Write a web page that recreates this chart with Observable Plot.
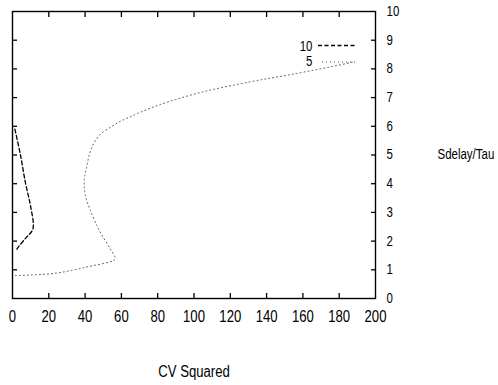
<!DOCTYPE html>
<html>
<head>
<meta charset="utf-8">
<script src="https://cdn.jsdelivr.net/npm/d3@7"></script>
<script src="https://cdn.jsdelivr.net/npm/@observablehq/plot@0.6"></script>
<style>
  body { margin: 0; background: #fff; }
  #chart svg { display: block; }
</style>
</head>
<body>
<div id="chart"></div>
<script>
// Series "10" (dashed)
const cv10 = [1.3, 4.4, 7.1, 9.9, 11.5, 10.8, 7.1, 2.6, 2.0];
const sd10 = [5.9, 5.0, 4.04, 3.24, 2.54, 2.36, 2.09, 1.74, 1.67];
// Series "5" (dotted)
const cv5 = [1.6, 23.6, 41.8, 55.5, 56.6, 53.8, 49.3, 46.5, 42.9, 40.7, 39.6, 39.7, 41, 42.5, 44.7, 48.4, 54.8, 59.3, 64.8, 69, 81, 103, 131, 153, 176, 188.5];
const sd5 = [0.80, 0.88, 1.11, 1.32, 1.39, 1.74, 2.2, 2.54, 3.07, 3.45, 3.83, 4.22, 4.63, 5.05, 5.40, 5.72, 6.0, 6.17, 6.33, 6.45, 6.75, 7.17, 7.55, 7.8, 8.08, 8.25];

const xTicks = [0, 20, 40, 60, 80, 100, 120, 140, 160, 180, 200];
const yTicks = [0, 1, 2, 3, 4, 5, 6, 7, 8, 9, 10];
const innerX = [20, 40, 60, 80, 100, 120, 140, 160, 180];
const innerY = [1, 2, 3, 4, 5, 6, 7, 8, 9];
const seriesNames = ["10", "5"];
const xLabel = "CV Squared";
const yLabel = "Sdelay/Tau";

const data10 = cv10.map((x, i) => ({x, y: sd10[i]}));
const data5 = cv5.map((x, i) => ({x, y: sd5[i]}));

const font = "'Liberation Sans', Arial, sans-serif";

const plot = Plot.plot({
  width: 498,
  height: 385,
  marginLeft: 12,
  marginRight: 123,
  marginTop: 11,
  marginBottom: 87,
  style: {fontFamily: font, background: "#fff", color: "#000"},
  x: {domain: [0, 200]},
  y: {domain: [0, 10]},
  marks: [
    Plot.frame({stroke: "#000", strokeWidth: 1.4}),
    // inward ticks
    Plot.axisX(innerX, {anchor: "bottom", tickSize: -5, text: null, label: null, strokeWidth: 1.3}),
    Plot.axisX(innerX, {anchor: "top", tickSize: -5, text: null, label: null, strokeWidth: 1.3}),
    Plot.axisY(innerY, {anchor: "left", tickSize: -5, text: null, label: null, strokeWidth: 1.3}),
    Plot.axisY(innerY, {anchor: "right", tickSize: -5, text: null, label: null, strokeWidth: 1.3}),
    // labels
    Plot.axisX(xTicks, {anchor: "bottom", tickSize: 0, tickPadding: 12, fontSize: 16, label: null}),
    Plot.axisY(yTicks, {anchor: "right", tickSize: 0, tickPadding: 11, fontSize: 14, label: null}),
    Plot.text([xLabel], {frameAnchor: "bottom", dy: 73, lineAnchor: "middle", fontSize: 16, fill: "#000"}),
    Plot.text([yLabel], {frameAnchor: "right", dx: 62, textAnchor: "start", lineAnchor: "middle", fontSize: 14, fill: "#000"}),
    // curves
    Plot.line(data10, {x: "x", y: "y", curve: "catmull-rom", stroke: "#000", strokeWidth: 1.3, strokeDasharray: "4,2.5"}),
    Plot.line(data5, {x: "x", y: "y", curve: "catmull-rom", stroke: "#555", strokeWidth: 1, strokeDasharray: "1,3"}),
    // legend labels
    Plot.text([seriesNames[0]], {frameAnchor: "top-right", dx: -63, dy: 35, textAnchor: "end", lineAnchor: "middle", fontSize: 14, fill: "#000"}),
    Plot.text([seriesNames[1]], {frameAnchor: "top-right", dx: -63, dy: 50, textAnchor: "end", lineAnchor: "middle", fontSize: 14, fill: "#000"})
  ]
});

// legend line samples
const svg = d3.select(plot);
svg.append("line").attr("x1", 318).attr("x2", 357).attr("y1", 45.5).attr("y2", 45.5)
  .attr("stroke", "#000").attr("stroke-width", 1.3).attr("stroke-dasharray", "4,2.5");
svg.append("line").attr("x1", 322).attr("x2", 357).attr("y1", 62).attr("y2", 62)
  .attr("stroke", "#555").attr("stroke-width", 1).attr("stroke-dasharray", "1,3");

document.getElementById("chart").appendChild(plot);

// condense glyphs to imitate the narrow typeface of the original
svg.selectAll("text").each(function () {
  const w = this.getComputedTextLength();
  if (w > 0) {
    this.setAttribute("textLength", (w * 0.82).toFixed(2));
    this.setAttribute("lengthAdjust", "spacingAndGlyphs");
  }
});
</script>
</body>
</html>
